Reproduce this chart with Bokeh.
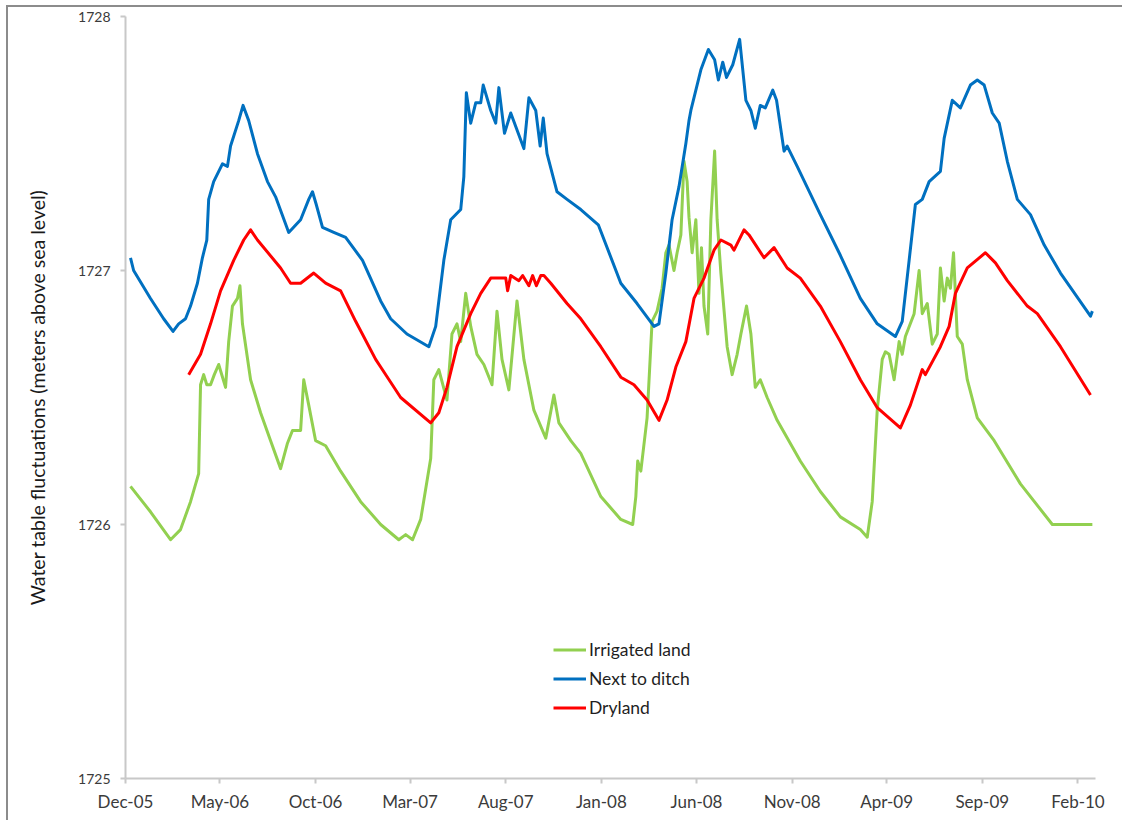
import pandas as pd
from bokeh.plotting import figure
from bokeh.models import FixedTicker, DatetimeTickFormatter, Legend, LegendItem, Range1d
from bokeh.embed import file_html
from bokeh.resources import INLINE

# Readings are stored as days since the first record date
START = pd.Timestamp("2005-12-01")
END = pd.Timestamp("2010-03-01")

# Irrigated land (m above sea level)
irrigated_day = [8, 40, 72, 88, 104, 117, 120, 125, 130, 136, 142, 149, 160, 165, 171, 179, 183, 187,
                 200, 216, 232, 248, 259, 267, 280, 285, 293, 304, 320, 344, 376, 408, 437, 448, 459,
                 472, 488, 493, 501, 514, 522, 530, 536, 544, 552, 562, 573, 586, 594, 602, 613, 626,
                 637, 653, 672, 685, 693, 712, 728, 760, 792, 811, 816, 819, 824, 834, 842, 850, 858,
                 864, 869, 877, 882, 888, 893, 898, 901, 906, 912, 917, 921, 925, 931, 936, 942, 946,
                 952, 962, 970, 978, 984, 993, 1000, 1007, 1015, 1026, 1042, 1079, 1111, 1143, 1175,
                 1186, 1194, 1202, 1210, 1215, 1221, 1229, 1237, 1242, 1247, 1261, 1269, 1274, 1282,
                 1290, 1298, 1303, 1309, 1314, 1319, 1324, 1330, 1338, 1346, 1362, 1389, 1431, 1482, 1546]
irrigated_level = [1726.15, 1726.05, 1725.94, 1725.98, 1726.09, 1726.20, 1726.55, 1726.59, 1726.55,
                   1726.55, 1726.59, 1726.63, 1726.54, 1726.72, 1726.86, 1726.89, 1726.94, 1726.79,
                   1726.57, 1726.44, 1726.33, 1726.22, 1726.32, 1726.37, 1726.37, 1726.57, 1726.47,
                   1726.33, 1726.31, 1726.21, 1726.09, 1726.00, 1725.94, 1725.96, 1725.94, 1726.02,
                   1726.26, 1726.57, 1726.61, 1726.49, 1726.75, 1726.79, 1726.72, 1726.91, 1726.78,
                   1726.67, 1726.63, 1726.55, 1726.84, 1726.65, 1726.53, 1726.88, 1726.65, 1726.45,
                   1726.34, 1726.51, 1726.40, 1726.33, 1726.28, 1726.11, 1726.02, 1726.00, 1726.11,
                   1726.25, 1726.21, 1726.42, 1726.80, 1726.84, 1726.93, 1727.07, 1727.10, 1727.00,
                   1727.07, 1727.14, 1727.43, 1727.35, 1727.21, 1727.07, 1727.20, 1726.91, 1727.09,
                   1726.86, 1726.75, 1727.20, 1727.47, 1727.20, 1726.99, 1726.70, 1726.59, 1726.67,
                   1726.75, 1726.86, 1726.75, 1726.54, 1726.57, 1726.50, 1726.41, 1726.25, 1726.13,
                   1726.03, 1725.98, 1725.95, 1726.09, 1726.45, 1726.65, 1726.68, 1726.67, 1726.57,
                   1726.72, 1726.67, 1726.74, 1726.83, 1727.00, 1726.83, 1726.87, 1726.71, 1726.75,
                   1727.01, 1726.88, 1726.97, 1726.93, 1727.07, 1726.74, 1726.71, 1726.57, 1726.42,
                   1726.33, 1726.16, 1726.00, 1726.00]

# Next to ditch
ditch_day = [8, 13, 40, 61, 76, 85, 96, 104, 115, 123, 130, 133, 141, 155, 163, 168, 181, 188, 197,
             211, 227, 240, 261, 280, 293, 299, 305, 315, 333, 352, 379, 408, 424, 450, 485, 496, 509,
             520, 536, 541, 545, 552, 560, 568, 572, 584, 592, 597, 606, 616, 637, 645, 656, 663, 668,
             674, 690, 706, 728, 756, 792, 818, 845, 853, 864, 874, 885, 896, 901, 904, 920, 932, 942,
             948, 955, 961, 971, 982, 992, 1000, 1007, 1015, 1023, 1035, 1041, 1053, 1058, 1074, 1111,
             1143, 1175, 1202, 1231, 1242, 1253, 1263, 1274, 1285, 1303, 1309, 1322, 1335, 1351, 1362,
             1373, 1386, 1397, 1410, 1426, 1447, 1469, 1495, 1543, 1546]
ditch_level = [1727.05, 1727.00, 1726.89, 1726.81, 1726.76, 1726.79, 1726.81, 1726.86, 1726.95,
               1727.05, 1727.12, 1727.28, 1727.35, 1727.42, 1727.41, 1727.49, 1727.59, 1727.65,
               1727.59, 1727.46, 1727.35, 1727.29, 1727.15, 1727.20, 1727.28, 1727.31, 1727.26,
               1727.17, 1727.15, 1727.13, 1727.04, 1726.88, 1726.81, 1726.75, 1726.70, 1726.78,
               1727.04, 1727.20, 1727.24, 1727.37, 1727.70, 1727.58, 1727.66, 1727.66, 1727.73,
               1727.63, 1727.58, 1727.72, 1727.54, 1727.62, 1727.48, 1727.68, 1727.63, 1727.49,
               1727.60, 1727.46, 1727.31, 1727.28, 1727.24, 1727.18, 1726.95, 1726.87, 1726.78,
               1726.79, 1726.99, 1727.20, 1727.33, 1727.50, 1727.59, 1727.63, 1727.79, 1727.87,
               1727.83, 1727.75, 1727.82, 1727.76, 1727.81, 1727.91, 1727.67, 1727.63, 1727.56,
               1727.65, 1727.64, 1727.71, 1727.67, 1727.47, 1727.49, 1727.41, 1727.22, 1727.06,
               1726.89, 1726.79, 1726.74, 1726.80, 1727.04, 1727.26, 1727.28, 1727.35, 1727.39,
               1727.52, 1727.67, 1727.64, 1727.73, 1727.75, 1727.73, 1727.62, 1727.58, 1727.43,
               1727.28, 1727.22, 1727.10, 1726.99, 1726.82, 1726.84]

# Dryland
dryland_day = [101, 120, 136, 152, 173, 189, 200, 211, 248, 264, 280, 301, 320, 344, 368, 400, 408,
               440, 488, 501, 514, 530, 552, 568, 584, 594, 608, 611, 616, 629, 635, 645, 651, 657,
               664, 669, 680, 706, 728, 760, 792, 813, 834, 853, 866, 880, 896, 909, 925, 941, 952,
               968, 973, 989, 997, 1021, 1037, 1058, 1079, 1111, 1143, 1175, 1202, 1239, 1255, 1274,
               1279, 1303, 1317, 1327, 1346, 1375, 1391, 1410, 1442, 1458, 1495, 1543]
dryland_level = [1726.59, 1726.67, 1726.79, 1726.92, 1727.04, 1727.12, 1727.16, 1727.12, 1727.01,
                 1726.95, 1726.95, 1726.99, 1726.95, 1726.92, 1726.80, 1726.65, 1726.62, 1726.50,
                 1726.40, 1726.44, 1726.54, 1726.70, 1726.83, 1726.91, 1726.97, 1726.97, 1726.97,
                 1726.92, 1726.98, 1726.96, 1726.98, 1726.94, 1726.98, 1726.94, 1726.98, 1726.98,
                 1726.95, 1726.87, 1726.81, 1726.70, 1726.58, 1726.55, 1726.49, 1726.41, 1726.49,
                 1726.62, 1726.72, 1726.89, 1726.97, 1727.08, 1727.12, 1727.10, 1727.08, 1727.16,
                 1727.14, 1727.05, 1727.09, 1727.01, 1726.97, 1726.86, 1726.72, 1726.57, 1726.46,
                 1726.38, 1726.47, 1726.61, 1726.59, 1726.70, 1726.78, 1726.91, 1727.01, 1727.07,
                 1727.03, 1726.96, 1726.86, 1726.83, 1726.70, 1726.51]

# Axis ticks
tick_dates = ["2005-12-01", "2006-05-01", "2006-10-01", "2007-03-01", "2007-08-01", "2008-01-01",
              "2008-06-01", "2008-11-01", "2009-04-01", "2009-09-01", "2010-02-01"]
level_ticks = [1725, 1726, 1727, 1728]

series_names = ["Irrigated land", "Next to ditch", "Dryland"]
series_colors = ["#92D050", "#0070C0", "#FF0000"]

FONT = "Lato"
TEXT = "#3b3b3b"
AXIS = "#c8c8c8"


def to_dates(days):
    return START + pd.to_timedelta(days, unit="D")


p = figure(width=1116, height=815, x_axis_type="datetime",
           x_range=Range1d(START, END), y_range=Range1d(1725, 1728),
           output_backend="svg", toolbar_location=None, title=None,
           min_border_left=117, min_border_right=29, min_border_top=9, min_border_bottom=44)
p.margin = (5, 0, 0, 6)
p.styles = {"border-top": "2px solid #8c8c8c", "border-left": "2px solid #8c8c8c"}
p.outline_line_color = None
p.grid.visible = False
p.background_fill_color = "white"
p.border_fill_color = "white"

renderers = []
for days, level, color in [(irrigated_day, irrigated_level, series_colors[0]),
                           (ditch_day, ditch_level, series_colors[1]),
                           (dryland_day, dryland_level, series_colors[2])]:
    r = p.line(to_dates(days), level, line_color=color, line_width=3, line_join="round")
    renderers.append(r)

# x axis: month labels every five months
xa = p.xaxis[0]
xa.ticker = FixedTicker(ticks=[pd.Timestamp(d).value / 1e6 for d in tick_dates])
fmt = "%b-%y"
xa.formatter = DatetimeTickFormatter(milliseconds=fmt, seconds=fmt, minsec=fmt, minutes=fmt,
                                     hourmin=fmt, hours=fmt, days=fmt, months=fmt, years=fmt)
ya = p.yaxis[0]
ya.ticker = FixedTicker(ticks=level_ticks)
ya.axis_label = "Water table fluctuations (meters above sea level)"
ya.axis_label_standoff = 26
ya.axis_label_text_font = FONT
ya.axis_label_text_font_style = "normal"
ya.axis_label_text_font_size = "19.5px"
ya.axis_label_text_color = "#1a1a1a"

for ax, size in [(xa, "17px"), (ya, "14px")]:
    ax.axis_line_color = AXIS
    ax.axis_line_width = 2
    ax.major_tick_line_color = AXIS
    ax.major_tick_line_width = 2
    ax.major_tick_out = 5
    ax.major_tick_in = 0
    ax.minor_tick_line_color = None
    ax.major_label_text_font = FONT
    ax.major_label_text_font_size = size
    ax.major_label_text_color = TEXT
xa.major_label_standoff = 7
ya.major_label_standoff = 10

legend = Legend(items=[LegendItem(label=n, renderers=[r]) for n, r in zip(series_names, renderers)],
                location=(428, 56), border_line_alpha=0, background_fill_alpha=0,
                padding=0, margin=0, spacing=0, glyph_width=33, glyph_height=29,
                label_height=29, label_standoff=3, label_text_font=FONT,
                label_text_font_size="17.5px", label_text_color="#1f1f1f")
p.add_layout(legend)

open("out.html", "w").write(file_html(p, INLINE))
